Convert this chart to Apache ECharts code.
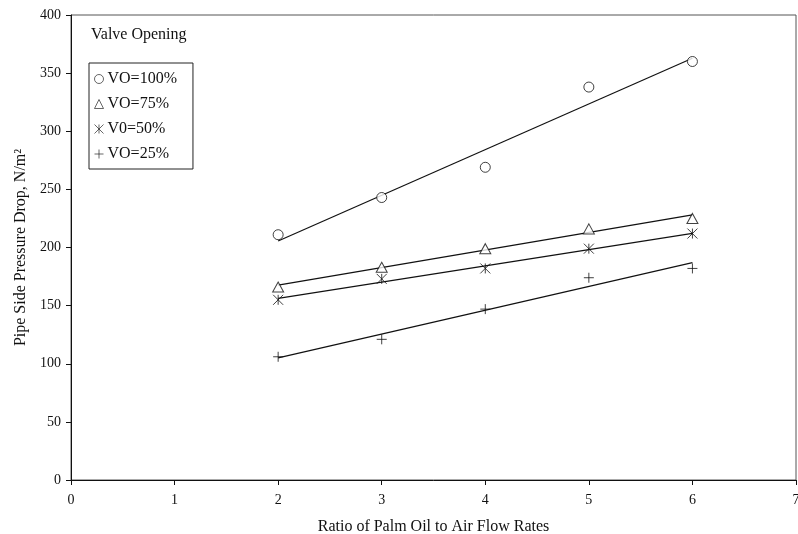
<!DOCTYPE html>
<html>
<head>
<meta charset="utf-8">
<title>Pipe Side Pressure Drop</title>
<script src="https://cdn.jsdelivr.net/npm/echarts@6/dist/echarts.min.js"></script>
<style>
  html, body { margin: 0; padding: 0; background: #fff; }
  #chart { width: 798px; height: 534px; }
</style>
</head>
<body>
<div id="chart"></div>
<script>
// Ratio of palm oil to air flow rates (x) and pipe side pressure drop, N/m² (y)
const flowRatios = [2, 3, 4, 5, 6];
const vo100 = [211, 243, 269, 338, 360];
const vo75 = [166, 183, 199, 216, 225];
const vo50 = [155, 173, 182, 199, 212];
const vo25 = [106, 121, 147, 174, 182];
const seriesNames = ['VO=100%', 'VO=75%', 'V0=50%', 'VO=25%'];
const xTicks = [0, 1, 2, 3, 4, 5, 6, 7];
const yTicks = [0, 50, 100, 150, 200, 250, 300, 350, 400];

const SERIF = '"Liberation Serif", "DejaVu Serif", serif';

// Marker shapes: open circle, open triangle, asterisk, plus
const symbols = [
  'circle',
  'triangle',
  'path://M0,0L10,10M10,0L0,10M5,0L5,10',
  'path://M0,5L10,5M5,0L5,10'
];
const fills = ['#fff', '#fff', 'none', 'none'];

// Least-squares straight line through a series, evaluated at the ends of the x range
function linearFit(xs, ys) {
  const n = xs.length;
  const mx = xs.reduce((a, b) => a + b, 0) / n;
  const my = ys.reduce((a, b) => a + b, 0) / n;
  let sxy = 0, sxx = 0;
  for (let i = 0; i < n; i++) {
    sxy += (xs[i] - mx) * (ys[i] - my);
    sxx += (xs[i] - mx) * (xs[i] - mx);
  }
  const slope = sxy / sxx;
  const x0 = xs[0], x1 = xs[n - 1];
  return [[x0, my + slope * (x0 - mx)], [x1, my + slope * (x1 - mx)]];
}

const allSeries = [vo100, vo75, vo50, vo25];
const series = [];
allSeries.forEach((vals, i) => {
  series.push({
    name: seriesNames[i] + ' fit',
    type: 'line',
    data: linearFit(flowRatios, vals),
    symbol: 'none',
    silent: true,
    lineStyle: { color: '#111', width: 1.2 },
    z: 2
  });
});
allSeries.forEach((vals, i) => {
  series.push({
    name: seriesNames[i],
    type: 'scatter',
    data: flowRatios.map((x, j) => [x, vals[j]]),
    symbol: symbols[i],
    symbolSize: i === 1 ? [11, 10] : 10,
    itemStyle: { color: fills[i], borderColor: '#111', borderWidth: 1 },
    z: 3
  });
});

const chart = echarts.init(document.getElementById('chart'), null, { renderer: 'canvas' });
chart.setOption({
  animation: false,
  backgroundColor: '#fff',
  title: {
    text: 'Valve Opening',
    left: 86,
    top: 22,
    textStyle: { fontFamily: SERIF, fontWeight: 'normal', fontSize: 16, color: '#111' }
  },
  legend: {
    data: seriesNames,
    orient: 'vertical',
    left: 89,
    top: 63,
    padding: [8, 16, 7, 3],
    itemGap: 9,
    itemWidth: 9,
    itemHeight: 9,
    borderColor: '#222',
    borderWidth: 1,
    itemStyle: { borderWidth: 0.8 },
    textStyle: { fontFamily: SERIF, fontSize: 16, color: '#111', padding: [0, 0, 0, -1] }
  },
  grid: {
    left: 71, right: 2, top: 15, bottom: 54,
    outerBoundsMode: 'none',
    containLabel: false,
    show: true, borderColor: '#555', borderWidth: 1, backgroundColor: 'transparent'
  },
  xAxis: {
    type: 'value',
    min: xTicks[0],
    max: xTicks[xTicks.length - 1],
    interval: 1,
    name: 'Ratio of Palm Oil to Air Flow Rates',
    nameLocation: 'middle',
    nameGap: 39,
    nameTextStyle: { fontFamily: SERIF, fontSize: 16, color: '#111' },
    axisLine: { lineStyle: { color: '#111', width: 1 } },
    axisTick: { show: true, inside: false, length: 5, lineStyle: { color: '#111' } },
    axisLabel: { fontFamily: SERIF, fontSize: 14, color: '#111', margin: 13 },
    splitLine: { show: false }
  },
  yAxis: {
    type: 'value',
    min: yTicks[0],
    max: yTicks[yTicks.length - 1],
    interval: 50,
    name: 'Pipe Side Pressure Drop, N/m²',
    nameLocation: 'middle',
    nameGap: 41,
    nameTextStyle: { fontFamily: SERIF, fontSize: 16, color: '#111' },
    axisLine: { lineStyle: { color: '#111', width: 1 } },
    axisTick: { show: true, inside: false, length: 5, lineStyle: { color: '#111' } },
    axisLabel: { fontFamily: SERIF, fontSize: 14, color: '#111', margin: 10 },
    splitLine: { show: false }
  },
  series: series
});
</script>
</body>
</html>
